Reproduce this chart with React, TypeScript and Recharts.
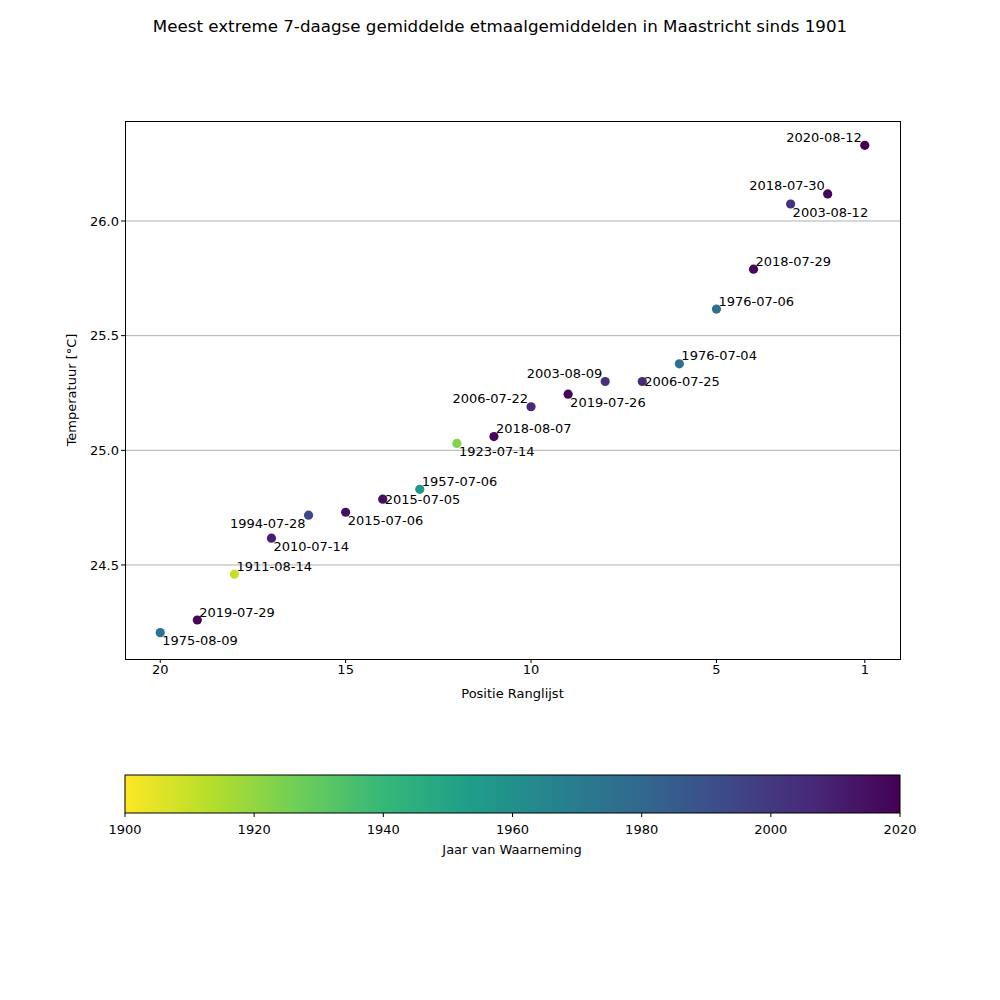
import { CartesianGrid, ReferenceLine, Scatter, ScatterChart, XAxis, YAxis } from 'recharts'

const ranks = [1, 2, 3, 4, 5, 6, 7, 8, 9, 10, 11, 12, 13, 14, 15, 16, 17, 18, 19, 20]
const temps = [26.33, 26.118, 26.074, 25.79, 25.616, 25.377, 25.3, 25.3, 25.245, 25.19, 25.06, 25.03, 24.83, 24.787, 24.73, 24.717, 24.617, 24.46, 24.26, 24.205]
const dates = [
  '2020-08-12', '2018-07-30', '2003-08-12', '2018-07-29', '1976-07-06',
  '1976-07-04', '2006-07-25', '2003-08-09', '2019-07-26', '2006-07-22',
  '2018-08-07', '1923-07-14', '1957-07-06', '2015-07-05', '2015-07-06',
  '1994-07-28', '2010-07-14', '1911-08-14', '2019-07-29', '1975-08-09',
]
// label placement: ur = upper right, ul = upper left, lr = lower right, ll = lower left, r = right
const placement = ['ul', 'ul', 'lr', 'ur', 'ur', 'ur', 'r', 'ul', 'lr', 'ul', 'ur', 'lr', 'ur', 'r', 'lr', 'll', 'lr', 'ur', 'ur', 'lr']
const yTicks = [24.5, 25.0, 25.5, 26.0]
const xTicks = [20, 15, 10, 5, 1]
const cbTicks = [1900, 1920, 1940, 1960, 1980, 2000, 2020]

const VIRIDIS = ['#440154', '#482878', '#3e4989', '#31688e', '#26828e', '#1f9e89', '#35b779', '#6ece58', '#b5de2b', '#fde725']

function hexToRgb(h: string) {
  return [1, 3, 5].map((i) => parseInt(h.slice(i, i + 2), 16))
}
function viridis(t: number) {
  const x = Math.max(0, Math.min(1, t)) * (VIRIDIS.length - 1)
  const i = Math.min(Math.floor(x), VIRIDIS.length - 2)
  const f = x - i
  const a = hexToRgb(VIRIDIS[i])
  const b = hexToRgb(VIRIDIS[i + 1])
  const c = a.map((v, k) => Math.round(v + (b[k] - v) * f))
  return `rgb(${c[0]},${c[1]},${c[2]})`
}
const yearColor = (year: number) => viridis(1 - (year - 1900) / 120)

const data = ranks.map((r, i) => ({
  rank: r,
  temp: temps[i],
  date: dates[i],
  pos: placement[i],
  color: yearColor(Number(dates[i].slice(0, 4))),
}))

const FONT = 'DejaVu Sans, sans-serif'

function Dot(props: any) {
  const { cx, cy, payload } = props
  let tx = cx + 2
  let ty = cy - 8
  let anchor: 'start' | 'end' = 'start'
  if (payload.pos === 'ul' || payload.pos === 'll') { tx = cx - 3; anchor = 'end' }
  if (payload.pos === 'lr') ty = cy + 8
  if (payload.pos === 'll') ty = cy + 8
  if (payload.pos === 'r') ty = cy
  return (
    <g>
      <circle cx={cx} cy={cy} r={4.6} fill={payload.color} />
      <text x={tx} y={ty} textAnchor={anchor} dominantBaseline="central" fontSize={13} fontFamily={FONT} fill="#000">
        {payload.date}
      </text>
    </g>
  )
}

export default function App() {
  return (
    <div style={{ position: 'absolute', left: 0, top: 0, width: 1000, height: 1000, background: '#fff', fontFamily: FONT }}>
      <div style={{ position: 'absolute', top: 16, width: 1000, textAlign: 'center', fontSize: 16.7 }}>
        Meest extreme 7-daagse gemiddelde etmaalgemiddelden in Maastricht sinds 1901
      </div>
      <ScatterChart width={1000} height={700} margin={{ top: 121, right: 100, bottom: 0, left: 0 }}>
        <CartesianGrid horizontal={false} vertical={false} />
        {yTicks.map((t) => (
          <ReferenceLine key={t} y={t} stroke="#b0b0b0" strokeWidth={1} />
        ))}
        <XAxis
          dataKey="rank"
          type="number"
          reversed
          domain={[0.05, 20.95]}
          ticks={xTicks}
          height={41}
          axisLine={false}
          tickLine={{ stroke: '#000' }}
          tickSize={4}
          tick={{ fill: '#000', fontSize: 13, fontFamily: FONT }}
          allowDataOverflow
        />
        <YAxis
          dataKey="temp"
          type="number"
          domain={[24.09, 26.436]}
          ticks={yTicks}
          width={125}
          axisLine={false}
          tickLine={{ stroke: '#000' }}
          tickSize={4}
          tickFormatter={(v) => v.toFixed(1)}
          tick={{ fill: '#000', fontSize: 13, fontFamily: FONT }}
          allowDataOverflow
        />
        <Scatter data={data} shape={Dot} isAnimationActive={false} />
      </ScatterChart>
      <div style={{ position: 'absolute', left: 125, top: 121, width: 774, height: 537, border: '1px solid #000', pointerEvents: 'none' }} />
      <div style={{ position: 'absolute', top: 686, left: 125, width: 775, textAlign: 'center', fontSize: 13 }}>Positie Ranglijst</div>
      <div style={{ position: 'absolute', left: 71, top: 390, fontSize: 13, transform: 'translate(-50%, -50%) rotate(-90deg)', whiteSpace: 'nowrap' }}>
        Temperatuur [°C]
      </div>
      <svg style={{ position: 'absolute', left: 0, top: 760 }} width={1000} height={110}>
        <defs>
          <linearGradient id="colorbarGrad" x1="0" y1="0" x2="1" y2="0">
            {[...VIRIDIS].reverse().map((c, i) => (
              <stop key={i} offset={i / (VIRIDIS.length - 1)} stopColor={c} />
            ))}
          </linearGradient>
        </defs>
        <rect x={125} y={15} width={775} height={38} fill="url(#colorbarGrad)" stroke="#000" strokeWidth={1} />
        {cbTicks.map((t) => {
          const x = 125 + ((t - 1900) / 120) * 775
          return (
            <g key={t}>
              <line x1={x} x2={x} y1={53} y2={57} stroke="#000" />
              <text x={x} y={74} textAnchor="middle" fontSize={13} fontFamily={FONT}>{t}</text>
            </g>
          )
        })}
        <text x={512} y={94} textAnchor="middle" fontSize={13} fontFamily={FONT}>Jaar van Waarneming</text>
      </svg>
    </div>
  )
}
